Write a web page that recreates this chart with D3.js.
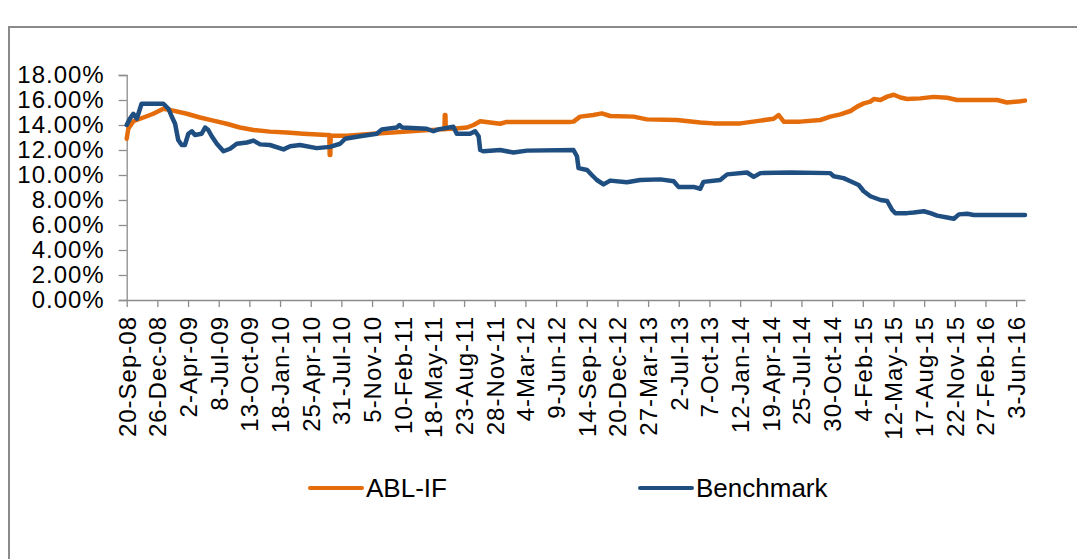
<!DOCTYPE html>
<html>
<head>
<meta charset="utf-8">
<script src="https://cdn.jsdelivr.net/npm/d3@7"></script>
<style>
  html, body { margin: 0; padding: 0; background: #fff; }
  svg { display: block; }
  text { font-family: "Liberation Sans", Arial, sans-serif; fill: #000; }
</style>
</head>
<body>
<svg id="chart" width="1077" height="559"></svg>
<script>
// ---- Data ----
const seriesNames = ["ABL-IF", "Benchmark"];

const tickLabels = ["20-Sep-08","26-Dec-08","2-Apr-09","8-Jul-09","13-Oct-09","18-Jan-10","25-Apr-10","31-Jul-10","5-Nov-10","10-Feb-11","18-May-11","23-Aug-11","28-Nov-11","4-Mar-12","9-Jun-12","14-Sep-12","20-Dec-12","27-Mar-13","2-Jul-13","7-Oct-13","12-Jan-14","19-Apr-14","25-Jul-14","30-Oct-14","4-Feb-15","12-May-15","17-Aug-15","22-Nov-15","27-Feb-16","3-Jun-16"];

const yTicks = [0, 0.02, 0.04, 0.06, 0.08, 0.10, 0.12, 0.14, 0.16, 0.18];

const ablDates = ["2008-09-20","2008-09-25","2008-10-11","2008-11-12","2008-12-13","2009-01-14","2009-02-14","2009-03-29","2009-05-10","2009-06-21","2009-08-02","2009-09-13","2009-10-26","2009-12-17","2010-02-08","2010-04-02","2010-06-15","2010-06-23","2010-06-24","2010-06-26","2010-06-27","2010-08-17","2010-11-09","2011-02-23","2011-06-08","2011-06-22","2011-06-23","2011-06-25","2011-06-26","2011-07-20","2011-09-01","2011-09-22","2011-10-13","2011-12-15","2012-01-05","2012-07-24","2012-08-03","2012-08-24","2012-10-05","2012-11-01","2012-11-27","2013-02-09","2013-03-23","2013-06-26","2013-09-08","2013-10-20","2014-01-13","2014-03-17","2014-04-28","2014-05-14","2014-05-30","2014-07-21","2014-09-23","2014-10-24","2014-11-25","2014-12-27","2015-01-17","2015-02-07","2015-02-28","2015-03-11","2015-04-01","2015-04-22","2015-05-13","2015-06-03","2015-06-24","2015-08-05","2015-09-16","2015-10-29","2015-11-29","2016-04-04","2016-05-05","2016-06-17","2016-07-01"];
const ablValues = [12.9,13.7,14.3,14.6,14.9,15.3,15.15,14.9,14.6,14.35,14.1,13.8,13.6,13.47,13.4,13.3,13.2,13.2,11.6,11.6,13.15,13.15,13.3,13.47,13.65,13.66,14.8,14.8,13.67,13.7,13.8,14.0,14.3,14.1,14.25,14.25,14.27,14.67,14.8,14.93,14.72,14.67,14.45,14.4,14.2,14.13,14.13,14.35,14.5,14.8,14.27,14.27,14.4,14.67,14.85,15.12,15.47,15.73,15.87,16.08,16.0,16.27,16.42,16.2,16.08,16.13,16.25,16.18,16.0,16.0,15.8,15.9,15.95];

const benchDates = ["2008-09-20","2008-09-30","2008-10-11","2008-10-22","2008-10-27","2008-11-06","2009-01-14","2009-01-30","2009-02-09","2009-02-20","2009-03-02","2009-03-13","2009-03-23","2009-04-03","2009-04-14","2009-04-24","2009-05-15","2009-05-26","2009-06-05","2009-06-16","2009-07-02","2009-07-23","2009-08-13","2009-09-03","2009-10-05","2009-10-26","2009-11-16","2009-12-17","2010-01-29","2010-02-19","2010-03-22","2010-05-14","2010-06-25","2010-07-27","2010-08-12","2010-09-28","2010-11-20","2010-12-06","2011-01-22","2011-01-31","2011-02-08","2011-04-27","2011-05-18","2011-06-03","2011-07-20","2011-07-31","2011-09-11","2011-09-27","2011-10-08","2011-10-13","2011-10-23","2011-12-15","2012-01-26","2012-03-09","2012-08-03","2012-08-14","2012-08-19","2012-09-15","2012-09-30","2012-10-16","2012-11-06","2012-11-27","2013-01-19","2013-03-02","2013-05-05","2013-06-16","2013-07-01","2013-08-18","2013-09-08","2013-09-18","2013-11-10","2013-12-02","2014-02-03","2014-02-24","2014-03-17","2014-06-20","2014-10-24","2014-11-04","2014-12-05","2014-12-27","2015-01-22","2015-02-07","2015-02-28","2015-04-01","2015-04-22","2015-05-08","2015-05-18","2015-06-24","2015-07-15","2015-08-16","2015-09-06","2015-09-27","2015-10-29","2015-11-19","2015-12-05","2015-12-31","2016-01-21","2016-07-01"];
const benchValues = [14.0,14.5,14.9,14.5,14.9,15.7,15.7,15.3,14.7,14.1,12.8,12.4,12.4,13.3,13.5,13.2,13.3,13.8,13.6,13.1,12.5,11.9,12.1,12.5,12.6,12.75,12.45,12.4,12.05,12.3,12.4,12.15,12.25,12.5,12.9,13.1,13.3,13.65,13.8,14.0,13.8,13.7,13.5,13.65,13.86,13.3,13.3,13.5,13.1,12.0,11.9,12.0,11.8,11.95,12.0,11.5,10.55,10.4,10.0,9.6,9.25,9.55,9.42,9.6,9.65,9.5,9.05,9.05,8.9,9.45,9.6,10.05,10.2,9.85,10.15,10.2,10.15,9.9,9.75,9.5,9.2,8.7,8.3,8.0,7.92,7.2,6.95,6.95,7.0,7.1,6.95,6.75,6.6,6.5,6.85,6.9,6.8,6.8];

const colors = ["#E46C0A", "#1F4E80"];

// ---- Build ----
const parseISO = d3.timeParse("%Y-%m-%d");
const parseTick = d3.timeParse("%d-%b-%y");
const fmtPct = d3.format(".2%");

const series = [
  { name: seriesNames[0], pts: ablDates.map((d, i) => ({ date: parseISO(d), v: ablValues[i] / 100 })) },
  { name: seriesNames[1], pts: benchDates.map((d, i) => ({ date: parseISO(d), v: benchValues[i] / 100 })) }
];

const svg = d3.select("#chart");

// outer frame
svg.append("rect")
  .attr("x", 9).attr("y", 27).attr("width", 1200).attr("height", 700)
  .attr("fill", "none").attr("stroke", "#8a8a8a").attr("stroke-width", 2);

const x = d3.scaleTime()
  .domain([parseTick("20-Sep-08"), parseISO("2016-07-01")])
  .range([126.7, 1025]);
const y = d3.scaleLinear().domain([0, 0.18]).range([300, 75]);

// y axis
const yAxis = d3.axisLeft(y).tickValues(yTicks).tickFormat(fmtPct).tickSize(8).tickPadding(14);
const gy = svg.append("g").attr("transform", "translate(126.7,0)").call(yAxis);
gy.select(".domain").attr("stroke", "#8c8c8c").attr("stroke-width", 1.3);
gy.selectAll(".tick line").attr("stroke", "#8c8c8c").attr("stroke-width", 1.3);
gy.selectAll(".tick text")
  .style("font-size", "24px").style("letter-spacing", "1px")
  .attr("fill", "#000");

// x axis
const tickDates = tickLabels.map(parseTick);
const xAxis = d3.axisBottom(x).tickValues(tickDates)
  .tickFormat((d, i) => tickLabels[i]).tickSize(7).tickPadding(0).tickSizeOuter(0);
const gx = svg.append("g").attr("transform", "translate(0,300)").call(xAxis);
gx.select(".domain").attr("stroke", "#8c8c8c").attr("stroke-width", 1.3);
gx.selectAll(".tick line").attr("stroke", "#8c8c8c").attr("stroke-width", 1.3);
gx.selectAll(".tick text")
  .style("font-size", "24px").style("letter-spacing", "1px")
  .attr("fill", "#000")
  .attr("text-anchor", "end")
  .attr("transform", "rotate(-90)")
  .attr("x", -16).attr("y", 0).attr("dy", "0.35em");

// lines
const line = d3.line().x(d => x(d.date)).y(d => y(d.v));
svg.selectAll("path.series")
  .data(series)
  .join("path")
  .attr("class", "series")
  .attr("fill", "none")
  .attr("stroke", (d, i) => colors[i])
  .attr("stroke-width", 4.5)
  .attr("stroke-linejoin", "round")
  .attr("stroke-linecap", "round")
  .attr("d", d => line(d.pts));

// legend
const legendX = [310, 640];
const lg = svg.append("g");
seriesNames.forEach((n, i) => {
  lg.append("line")
    .attr("x1", legendX[i]).attr("x2", legendX[i] + 52)
    .attr("y1", 488).attr("y2", 488)
    .attr("stroke", colors[i]).attr("stroke-width", 4).attr("stroke-linecap", "round");
  lg.append("text")
    .attr("x", legendX[i] + 56).attr("y", 488).attr("dy", "0.35em")
    .style("font-size", "26px")
    .text(n);
});
</script>
</body>
</html>
